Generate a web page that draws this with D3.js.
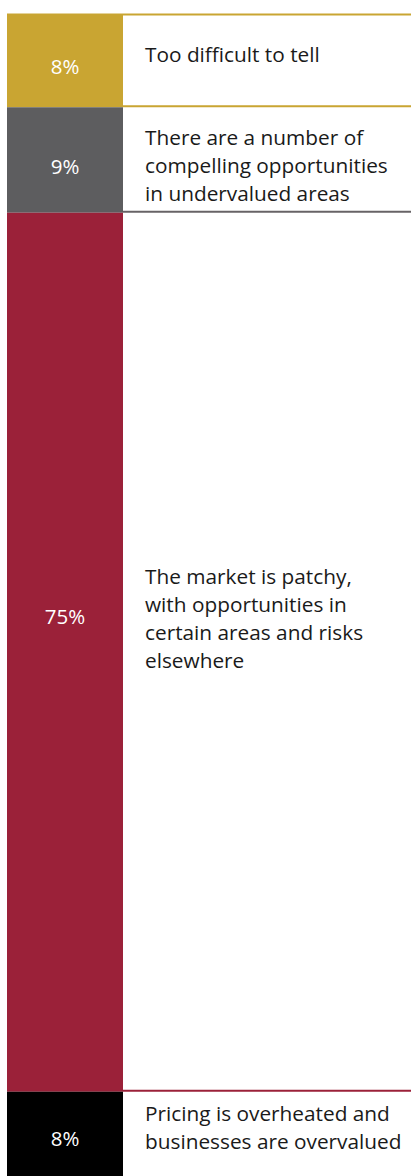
<!DOCTYPE html>
<html>
<head>
<meta charset="utf-8">
<script src="https://cdn.jsdelivr.net/npm/d3@7"></script>
<style>
  html, body { margin: 0; padding: 0; background: #fff; }
  svg { display: block; }
  text { font-family: "Open Sans", "Noto Sans", sans-serif; }
</style>
</head>
<body>
<svg id="chart" width="411" height="1176"></svg>
<script>
// Survey responses, stacked top to bottom
const categories = [
  "Too difficult to tell",
  "There are a number of compelling opportunities in undervalued areas",
  "The market is patchy, with opportunities in certain areas and risks elsewhere",
  "Pricing is overheated and businesses are overvalued"
];
const shares = [8, 9, 75, 8];
const labelLines = [
  ["Too difficult to tell"],
  ["There are a number of", "compelling opportunities", "in undervalued areas"],
  ["The market is patchy,", "with opportunities in", "certain areas and risks", "elsewhere"],
  ["Pricing is overheated and", "businesses are overvalued"]
];
const colors = ["#c9a532", "#5d5d5f", "#9b2139", "#000000"];
const ruleColors = ["#c9a532", "#676366", "#9b2139", "#000000"];

// Layout: vertical nudges (px) of each row's labels from the segment centre
const pctShift = [6, 6, -36, -1];
const textShift = [-6, 5, -34, -12];

const W = 411, H = 1176;
const barX0 = 7, barX1 = 123, textX = 145;
const lineH = 28;

const svg = d3.select("#chart");

const y = d3.scaleLinear().domain([0, 100]).range([13.5, 1185.5]);

const stackData = shares.map((v, i) => {
  const start = d3.sum(shares.slice(0, i));
  return { i, v, y0: start, y1: start + v };
});

const rows = svg.selectAll("g.row").data(stackData).join("g").attr("class", "row");

rows.append("rect")
  .attr("x", barX0)
  .attr("width", barX1 - barX0)
  .attr("y", d => y(d.y0))
  .attr("height", d => y(d.y1) - y(d.y0))
  .attr("fill", d => colors[d.i]);

// Rule along the top of the first segment
svg.append("line")
  .attr("x1", barX1).attr("x2", W)
  .attr("y1", y(0) + 1).attr("y2", y(0) + 1)
  .attr("stroke", ruleColors[0])
  .attr("stroke-width", 2);

// Rule along the bottom of each segment
rows.append("line")
  .attr("x1", barX1).attr("x2", W)
  .attr("y1", d => y(d.y1) - 1).attr("y2", d => y(d.y1) - 1)
  .attr("stroke", d => ruleColors[d.i])
  .attr("stroke-width", 2);

// Percentage labels inside the bar
rows.append("text")
  .attr("x", (barX0 + barX1) / 2)
  .attr("y", d => (y(d.y0) + y(d.y1)) / 2 + pctShift[d.i])
  .attr("text-anchor", "middle")
  .attr("dominant-baseline", "central")
  .attr("fill", "#ffffff")
  .attr("font-size", 20.5)
  .text(d => d.v + "%");

// Category descriptions to the right
rows.append("text")
  .attr("x", textX)
  .attr("fill", "#1a1a1a")
  .attr("font-size", 20.8)
  .attr("dominant-baseline", "central")
  .each(function(d) {
    const lines = labelLines[d.i];
    const mid = (y(d.y0) + y(d.y1)) / 2 + textShift[d.i];
    const first = mid - (lines.length - 1) * lineH / 2;
    d3.select(this).selectAll("tspan").data(lines).join("tspan")
      .attr("x", textX)
      .attr("y", (t, k) => first + k * lineH)
      .text(t => t);
  })
  .append("title").text(d => categories[d.i]);
</script>
</body>
</html>
